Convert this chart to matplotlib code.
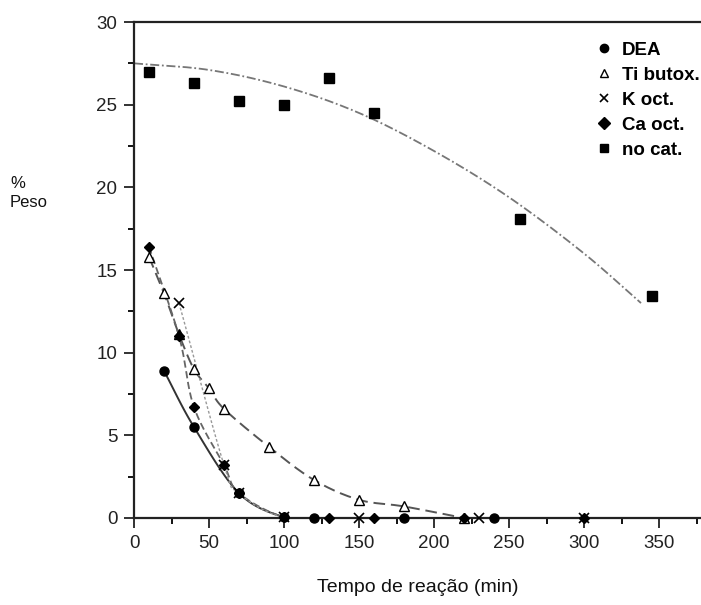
import numpy as np
import matplotlib
matplotlib.use("Agg")
import matplotlib.pyplot as plt
from matplotlib.ticker import MultipleLocator

plt.rcParams["font.family"] = ["Liberation Sans", "DejaVu Sans"]

# Reaction time (min) and weight % per catalyst
dea_t = [20, 40, 70, 100, 120, 180, 240]
dea_w = [8.9, 5.5, 1.5, 0.05, 0.0, 0.0, 0.0]

ti_t = [10, 20, 30, 40, 50, 60, 90, 120, 150, 180, 220]
ti_w = [15.8, 13.6, 11.1, 9.0, 7.85, 6.6, 4.3, 2.3, 1.1, 0.7, 0.0]

k_t = [30, 60, 70, 100, 150, 230, 300]
k_w = [13.0, 3.2, 1.5, 0.05, 0.0, 0.0, 0.0]

ca_t = [10, 30, 40, 60, 70, 100, 130, 160, 220, 300]
ca_w = [16.4, 11.0, 6.7, 3.2, 1.5, 0.05, 0.0, 0.0, 0.0, 0.0]

nocat_t = [10, 40, 70, 100, 130, 160, 257, 345]
nocat_w = [27.0, 26.3, 25.2, 25.0, 26.6, 24.5, 18.1, 13.4]

# Trend line of the uncatalysed run
nocat_fit_t = [0, 50, 100, 150, 200, 250, 300, 338]
nocat_fit_w = [27.5, 27.1, 26.1, 24.5, 22.2, 19.4, 16.0, 13.0]

labels = ["DEA", "Ti butox.", "K oct.", "Ca oct.", "no cat."]


def smooth(x, y, n=20):
    """Catmull-Rom curve through the given points."""
    x = np.asarray(x, float)
    y = np.asarray(y, float)
    px = np.concatenate([[2 * x[0] - x[1]], x, [2 * x[-1] - x[-2]]])
    py = np.concatenate([[2 * y[0] - y[1]], y, [2 * y[-1] - y[-2]]])
    xs, ys = [], []
    s = np.linspace(0, 1, n, endpoint=False)
    for i in range(1, len(px) - 2):
        p0, p1, p2, p3 = [np.array([px[j], py[j]]) for j in range(i - 1, i + 3)]
        pts = 0.5 * ((2 * p1)[None, :]
                     + (-p0 + p2)[None, :] * s[:, None]
                     + (2 * p0 - 5 * p1 + 4 * p2 - p3)[None, :] * s[:, None] ** 2
                     + (-p0 + 3 * p1 - 3 * p2 + p3)[None, :] * s[:, None] ** 3)
        xs.append(pts[:, 0])
        ys.append(pts[:, 1])
    xs.append([x[-1]])
    ys.append([y[-1]])
    return np.concatenate(xs), np.clip(np.concatenate(ys), 0, None)


fig = plt.figure(figsize=(7.01, 6.05), dpi=100)
ax = fig.add_axes([134 / 701, 1 - 518 / 605, 1 - 134 / 701, (518 - 22) / 605])

sx, sy = smooth(nocat_fit_t, nocat_fit_w)
ax.plot(sx, sy, color="#777777", lw=1.3, ls=(0, (5, 1.5, 1, 1.5)))

# Smooth curves through the catalysed runs
sx, sy = smooth(dea_t, dea_w)
ax.plot(sx, sy, color="#333333", lw=1.4, ls="-")
sx, sy = smooth(ti_t, ti_w)
ax.plot(sx, sy, color="#555555", lw=1.4, ls=(0, (6, 3)))
sx, sy = smooth(ca_t, ca_w)
ax.plot(sx, sy, color="#666666", lw=1.3, ls=(0, (4, 2)))
sx, sy = smooth(k_t, k_w)
ax.plot(sx, sy, color="#999999", lw=1.0, ls=(0, (2, 1.5)))

mk = dict(color="black", ls="none", clip_on=False, zorder=5)
h_dea, = ax.plot(dea_t, dea_w, marker="o", ms=6.5, **mk)
h_ti, = ax.plot(ti_t, ti_w, marker="^", ms=6.5, mfc="white", mew=1.0, **mk)
h_k, = ax.plot(k_t, k_w, marker="x", ms=6.5, mew=1.2, **mk)
h_ca, = ax.plot(ca_t, ca_w, marker="D", ms=5.5, **mk)
h_nc, = ax.plot(nocat_t, nocat_w, marker="s", ms=6.5, **mk)

ax.set_xlim(0, 378)
ax.set_ylim(0, 30)
ax.xaxis.set_major_locator(MultipleLocator(50))
ax.xaxis.set_minor_locator(MultipleLocator(25))
ax.yaxis.set_major_locator(MultipleLocator(5))
ax.yaxis.set_minor_locator(MultipleLocator(2.5))
ax.tick_params(which="major", direction="out", length=7, width=1.3, labelsize=13.5,
               colors="#222222")
ax.tick_params(which="minor", direction="out", length=4, width=1.3)
ax.tick_params(axis="x", pad=5)
ax.tick_params(axis="y", pad=5)
for side in ("left", "bottom", "top"):
    ax.spines[side].set_linewidth(1.6)
    ax.spines[side].set_color("#222222")
ax.spines["right"].set_visible(False)

ax.set_xlabel("Tempo de reação (min)", fontsize=14, labelpad=20, color="#111111")
fig.text(10 / 701, 1 - 193 / 605, "%\nPeso", fontsize=12, ha="left", va="center",
         linespacing=1.3, color="#111111")

leg = ax.legend([h_dea, h_ti, h_k, h_ca, h_nc], labels, loc="upper left",
                bbox_to_anchor=(0.803, 0.976), frameon=False, handlelength=0.8,
                handletextpad=0.55, labelspacing=0.42, borderaxespad=0,
                prop={"weight": "bold", "size": 13.5})
for h in leg.legend_handles:
    h.set_markersize(6)

fig.savefig("out.png", dpi=100)
